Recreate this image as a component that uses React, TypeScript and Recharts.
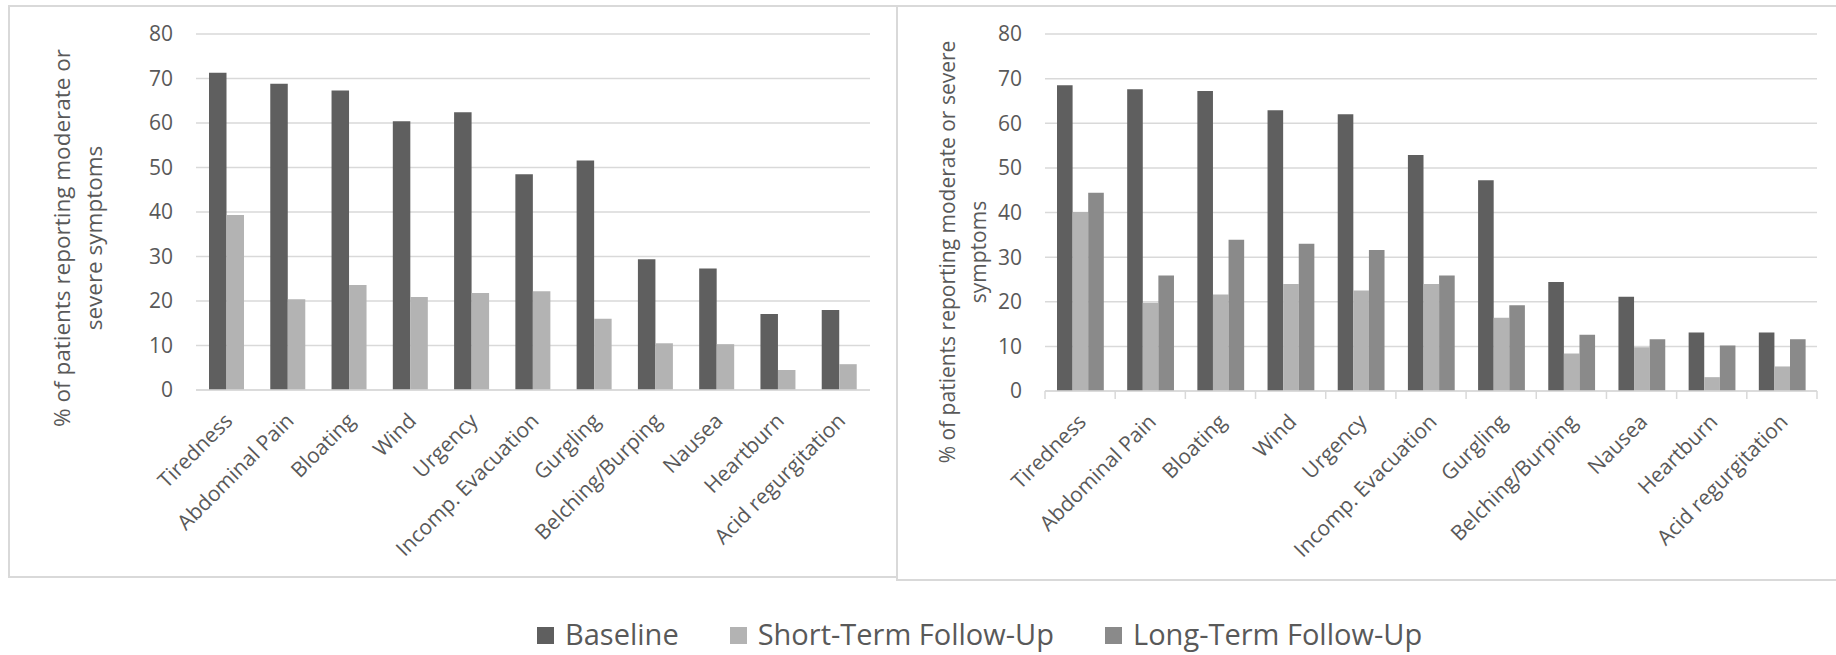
import React from 'react';
import { BarChart, Bar, XAxis, YAxis, CartesianGrid } from 'recharts';

const categories = [
  'Tiredness',
  'Abdominal Pain',
  'Bloating',
  'Wind',
  'Urgency',
  'Incomp. Evacuation',
  'Gurgling',
  'Belching/Burping',
  'Nausea',
  'Heartburn',
  'Acid regurgitation',
];

// left panel
const leftBaseline = [71.3, 68.8, 67.3, 60.4, 62.4, 48.5, 51.6, 29.4, 27.3, 17.1, 18.0];
const leftShortTerm = [39.3, 20.4, 23.6, 20.9, 21.8, 22.2, 16.0, 10.5, 10.3, 4.5, 5.8];

// right panel
const rightBaseline = [68.5, 67.6, 67.2, 62.9, 62.0, 52.9, 47.2, 24.4, 21.1, 13.1, 13.1];
const rightShortTerm = [40.1, 19.8, 21.6, 24.0, 22.5, 24.0, 16.4, 8.4, 9.8, 3.1, 5.5];
const rightLongTerm = [44.4, 25.9, 33.9, 33.0, 31.6, 25.9, 19.2, 12.6, 11.6, 10.2, 11.6];

const yTicks = [0, 10, 20, 30, 40, 50, 60, 70, 80];
const seriesNames = ['Baseline', 'Short-Term Follow-Up', 'Long-Term Follow-Up'];
const seriesColors = ['#5f5f5f', '#b3b3b3', '#8a8a8a'];

const leftTitle = ['% of patients reporting moderate or', 'severe symptoms'];
const rightTitle = ['% of patients reporting moderate or severe', 'symptoms'];

const leftData = categories.map((name, i) => ({
  name,
  baseline: leftBaseline[i],
  shortTerm: leftShortTerm[i],
}));

const rightData = categories.map((name, i) => ({
  name,
  baseline: rightBaseline[i],
  shortTerm: rightShortTerm[i],
  longTerm: rightLongTerm[i],
}));

const FONT = '"Open Sans", "Noto Sans", sans-serif';
const TEXT = '#595959';
const GRID = '#d9d9d9';

const CatTick = (props: any) => {
  const { x, y, payload, index, step, boundaries } = props;
  return (
    <g>
      {boundaries && (
        <line x1={x - step / 2} y1={y} x2={x - step / 2} y2={y + 8} stroke={GRID} strokeWidth={1.5} />
      )}
      {boundaries && index === categories.length - 1 && (
        <line x1={x + step / 2} y1={y} x2={x + step / 2} y2={y + 8} stroke={GRID} strokeWidth={1.5} />
      )}
      <g transform={`translate(${x + 2},${y + 27})`}>
        <text
          x={0}
          y={0}
          dy="0.35em"
          textAnchor="end"
          transform="rotate(-45)"
          fontSize={21}
          fontFamily={FONT}
          fill={TEXT}
        >
          {payload.value}
        </text>
      </g>
    </g>
  );
};

const YTitle = ({ lines, x1, x2, cy, size }: { lines: string[]; x1: number; x2: number; cy: number; size: number }) => (
  <g>
    {lines.map((line, i) => {
      const x = i === 0 ? x1 : x2;
      return (
        <text
          key={i}
          x={x}
          y={cy}
          transform={`rotate(-90, ${x}, ${cy})`}
          textAnchor="middle"
          dominantBaseline="central"
          fontSize={size}
          fontFamily={FONT}
          fill={TEXT}
        >
          {line}
        </text>
      );
    })}
  </g>
);

const LEFT_W = 900;
const RIGHT_W = 938;
const CHART_H = 600;

export default function App() {
  const leftStep = (870 - 196) / categories.length;
  const rightStep = (919 - 147) / categories.length;

  return (
    <div
      style={{
        position: 'absolute',
        left: 0,
        top: 0,
        width: 1836,
        height: 655,
        background: '#fff',
        fontFamily: FONT,
        overflow: 'hidden',
      }}
    >
      {/* panel borders */}
      <div
        style={{
          position: 'absolute',
          left: 8,
          top: 5,
          width: 890,
          height: 573,
          border: `2px solid ${GRID}`,
          boxSizing: 'border-box',
        }}
      />
      <div
        style={{
          position: 'absolute',
          left: 896,
          top: 5,
          width: 960,
          height: 576,
          border: `2px solid ${GRID}`,
          boxSizing: 'border-box',
        }}
      />

      <div style={{ position: 'absolute', left: 0, top: 0 }}>
        <BarChart
          width={LEFT_W}
          height={CHART_H}
          data={leftData}
          margin={{ top: 34, right: 30, bottom: 60, left: 136 }}
          barGap={0}
        >
          <CartesianGrid vertical={false} stroke={GRID} strokeWidth={1.5} />
          <XAxis
            dataKey="name"
            height={150}
            interval={0}
            axisLine={{ stroke: GRID, strokeWidth: 1.5 }}
            tickLine={false}
            tickSize={0}
            tickMargin={0}
            tick={<CatTick step={leftStep} boundaries={false} />}
          />
          <YAxis
            width={60}
            domain={[0, 80]}
            ticks={yTicks}
            interval={0}
            axisLine={false}
            tickLine={false}
            tickSize={0}
            tickMargin={23}
            tick={{ fontSize: 21, fill: TEXT, fontFamily: FONT }}
            label={<YTitle lines={leftTitle} x1={61} x2={93} cy={238} size={22.5} />}
          />
          <Bar dataKey="baseline" name={seriesNames[0]} fill={seriesColors[0]} barSize={17.5} isAnimationActive={false} />
          <Bar dataKey="shortTerm" name={seriesNames[1]} fill={seriesColors[1]} barSize={17.5} isAnimationActive={false} />
        </BarChart>
      </div>

      <div style={{ position: 'absolute', left: 898, top: 0 }}>
        <BarChart
          width={RIGHT_W}
          height={CHART_H}
          data={rightData}
          margin={{ top: 34, right: 19, bottom: 59, left: 87 }}
          barGap={0}
        >
          <CartesianGrid vertical={false} stroke={GRID} strokeWidth={1.5} />
          <XAxis
            dataKey="name"
            height={150}
            interval={0}
            axisLine={{ stroke: GRID, strokeWidth: 1.5 }}
            tickLine={false}
            tickSize={0}
            tickMargin={0}
            tick={<CatTick step={rightStep} boundaries={true} />}
          />
          <YAxis
            width={60}
            domain={[0, 80]}
            ticks={yTicks}
            interval={0}
            axisLine={false}
            tickLine={false}
            tickSize={0}
            tickMargin={23}
            tick={{ fontSize: 21, fill: TEXT, fontFamily: FONT }}
            label={<YTitle lines={rightTitle} x1={49} x2={80} cy={252} size={21} />}
          />
          <Bar dataKey="baseline" name={seriesNames[0]} fill={seriesColors[0]} barSize={15.6} isAnimationActive={false} />
          <Bar dataKey="shortTerm" name={seriesNames[1]} fill={seriesColors[1]} barSize={15.6} isAnimationActive={false} />
          <Bar dataKey="longTerm" name={seriesNames[2]} fill={seriesColors[2]} barSize={15.6} isAnimationActive={false} />
        </BarChart>
      </div>

      {/* shared legend */}
      <div
        style={{
          position: 'absolute',
          left: 537,
          top: 614,
          height: 40,
          display: 'flex',
          alignItems: 'center',
          gap: 51,
          fontSize: 29,
          color: TEXT,
          lineHeight: '40px',
          whiteSpace: 'nowrap',
        }}
      >
        {seriesNames.map((name, i) => (
          <div key={name} style={{ display: 'flex', alignItems: 'center' }}>
            <span
              style={{
                display: 'inline-block',
                width: 17,
                height: 17,
                background: seriesColors[i],
                marginRight: 11,
                marginTop: 2,
              }}
            />
            <span>{name}</span>
          </div>
        ))}
      </div>
    </div>
  );
}
